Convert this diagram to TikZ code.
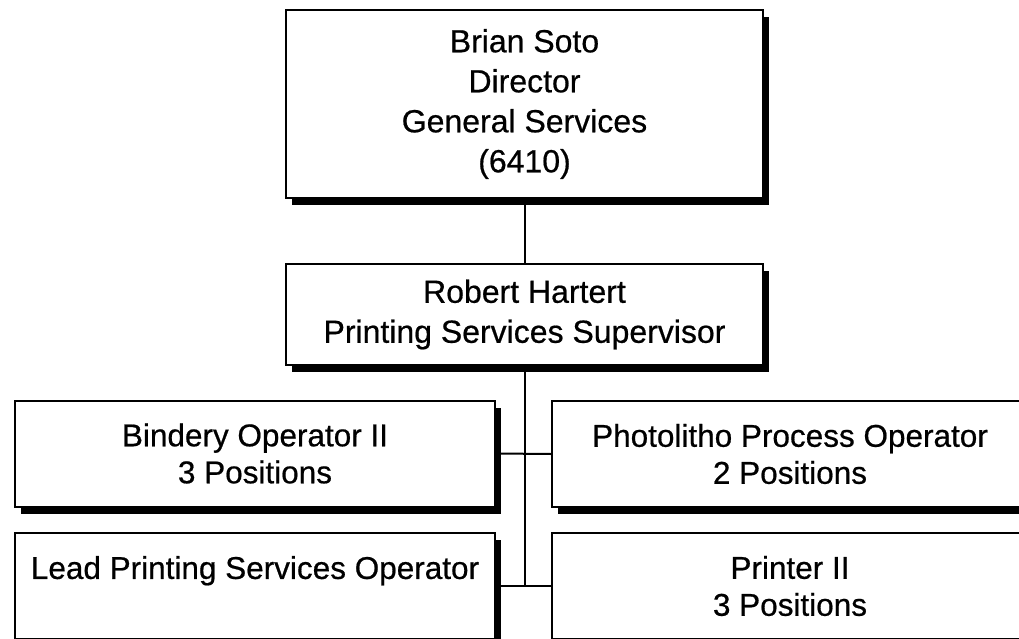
\documentclass[tikz,border=0pt]{standalone}
\usepackage{fontspec}
\setmainfont{Liberation Sans}
\newfontfamily\orgfont[FakeBold=0.6]{Liberation Sans}
\usetikzlibrary{positioning,shadows}

\begin{document}
\begin{tikzpicture}[x=1pt,y=-1pt,node distance=64pt,line width=2pt,
box/.style={draw,fill=white,align=center,inner sep=0pt,
  drop shadow={shadow xshift=6pt,shadow yshift=-7pt,fill=black,opacity=1},
  font=\orgfont\fontsize{32}{40}\selectfont},
unit/.style={box,minimum width=480pt,minimum height=106pt,font=\orgfont\fontsize{31.5}{37}\selectfont}]
\clip (0,0) rectangle (1019,639);
\node[box,minimum width=477pt,minimum height=188pt] (soto) at (524.5,104) {Brian Soto\\Director\\General Services\\(6410)};
\node[box,minimum width=477pt,minimum height=101pt,below=of soto] (hartert) {Robert Hartert\\Printing Services Supervisor};
\node[unit] (bindery) at (255,453.5) {Bindery Operator II\\3 Positions};
\node[unit,minimum width=476pt] (photo) at (790,454) {Photolitho Process Operator\\2 Positions};
\node[unit] (lead) at (255,586) {Lead Printing Services Operator\\~};
\node[unit,minimum width=476pt] (printer) at (790,586) {Printer II\\3 Positions};
\draw (soto) -- (hartert);
\draw (hartert) -- (hartert |- lead.east);
\draw (bindery.east) -- (photo.west);
\draw (lead.east) -- (printer.west);
\end{tikzpicture}
\end{document}
